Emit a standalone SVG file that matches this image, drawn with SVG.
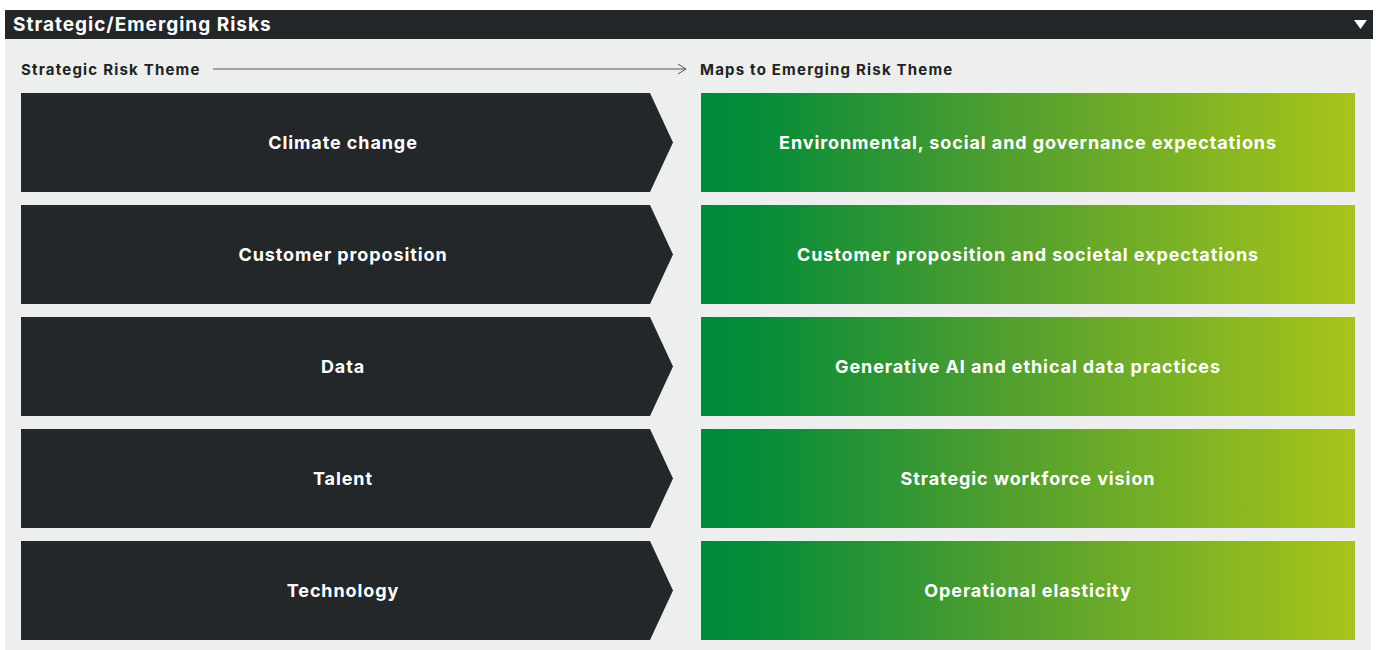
<svg xmlns="http://www.w3.org/2000/svg" width="1376" height="650" viewBox="0 0 1376 650">
<defs>
<linearGradient id="g" x1="0" y1="0" x2="1" y2="0">
<stop offset="0" stop-color="#008A3A"/>
<stop offset="0.08" stop-color="#048B39"/>
<stop offset="0.45" stop-color="#4E9E30"/>
<stop offset="1" stop-color="#A8C41A"/>
</linearGradient>
<marker id="ah" viewBox="0 0 10 12" refX="9" refY="6" markerWidth="10" markerHeight="12" markerUnits="userSpaceOnUse" orient="auto">
<path d="M1,1 L9,6 L1,11" fill="none" stroke="#555" stroke-width="1"/>
</marker>
<style>
.hdr{font-family:Inter,"Open Sans","Liberation Sans",sans-serif;font-weight:700;fill:#fff;font-size:19px;letter-spacing:1px}
.sub{font-family:Inter,"Open Sans","Liberation Sans",sans-serif;font-weight:700;fill:#222;font-size:15px;letter-spacing:1.2px}
.lbl{font-family:Inter,"Open Sans","Liberation Sans",sans-serif;font-weight:700;fill:#fff;font-size:18px;letter-spacing:0.9px;text-anchor:middle}
.chev{fill:#23272A}
.box{fill:url(#g)}
</style>
</defs>
<rect x="0" y="0" width="1376" height="650" fill="#fff"/>
<rect x="5" y="39" width="1366" height="611" fill="#EDEEEE"/>
<g id="header">
<rect x="5" y="10" width="1368" height="29" fill="#23272A"/>
<text class="hdr" x="13" y="31">Strategic/Emerging Risks</text>
<polygon points="1354,20 1367,20 1360.5,29" fill="#fff"/>
</g>
<g id="subheaders">
<text class="sub" x="21" y="75">Strategic Risk Theme</text>
<text class="sub" x="700" y="75">Maps to Emerging Risk Theme</text>
</g>
<g id="connectors">
<line x1="213" y1="69" x2="686" y2="69" stroke="#555" stroke-width="1" marker-end="url(#ah)"/>
</g>
<g id="s1"><polygon class="chev" points="21,93 650,93 673,142.5 650,192 21,192"/><text class="lbl" x="343" y="149">Climate change</text></g>
<g id="s2"><polygon class="chev" points="21,205 650,205 673,254.5 650,304 21,304"/><text class="lbl" x="343" y="261">Customer proposition</text></g>
<g id="s3"><polygon class="chev" points="21,317 650,317 673,366.5 650,416 21,416"/><text class="lbl" x="343" y="373">Data</text></g>
<g id="s4"><polygon class="chev" points="21,429 650,429 673,478.5 650,528 21,528"/><text class="lbl" x="343" y="485">Talent</text></g>
<g id="s5"><polygon class="chev" points="21,541 650,541 673,590.5 650,640 21,640"/><text class="lbl" x="343" y="597">Technology</text></g>
<g id="e1"><rect class="box" x="701" y="93" width="654" height="99"/><text class="lbl" x="1028" y="149">Environmental, social and governance expectations</text></g>
<g id="e2"><rect class="box" x="701" y="205" width="654" height="99"/><text class="lbl" x="1028" y="261">Customer proposition and societal expectations</text></g>
<g id="e3"><rect class="box" x="701" y="317" width="654" height="99"/><text class="lbl" x="1028" y="373">Generative AI and ethical data practices</text></g>
<g id="e4"><rect class="box" x="701" y="429" width="654" height="99"/><text class="lbl" x="1028" y="485">Strategic workforce vision</text></g>
<g id="e5"><rect class="box" x="701" y="541" width="654" height="99"/><text class="lbl" x="1028" y="597">Operational elasticity</text></g>
</svg>
